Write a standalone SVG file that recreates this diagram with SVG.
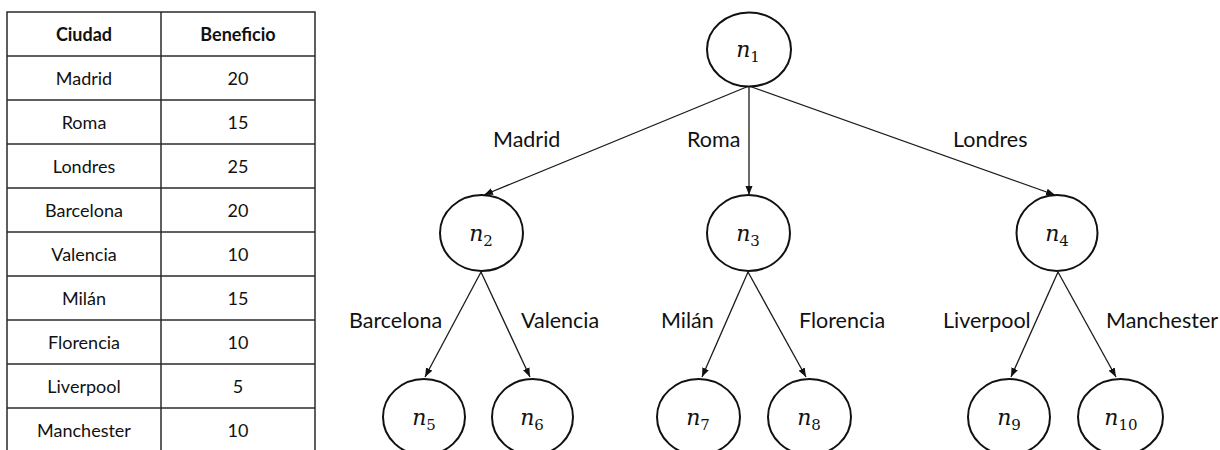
<svg xmlns="http://www.w3.org/2000/svg" width="1220" height="450" viewBox="0 0 1220 450">
  <defs>
    <marker id="arrow" markerUnits="userSpaceOnUse" markerWidth="10" markerHeight="8" refX="9" refY="4" orient="auto">
      <path d="M0,0.5 L9,4 L0,7.5 z" fill="#111"/>
    </marker>
    <style>
      .grid { stroke: #2a2a2a; stroke-width: 1.5; fill: none; }
      .cell { font-family: Lato, "Open Sans", "Liberation Sans", sans-serif; font-size: 18px; fill: #111; text-anchor: middle; }
      .head { font-weight: bold; }
      .node ellipse { fill: #fff; stroke: #111; stroke-width: 2; }
      .node text { font-family: "DejaVu Serif", "Liberation Serif", serif; font-size: 22px; fill: #111; text-anchor: middle; }
      .node .sub { font-style: normal; font-size: 15px; }
      .edge { stroke: #1a1a1a; stroke-width: 1.3; fill: none; marker-end: url(#arrow); }
      .lbl { font-family: Lato, "Open Sans", "Liberation Sans", sans-serif; font-size: 21.5px; fill: #111; }
    </style>
  </defs>

  <rect width="1220" height="450" fill="#fff"/>

  <!-- Table of cities and profits -->
  <g id="table">
    <rect class="grid" x="7" y="12" width="308" height="445"/>
    <line class="grid" x1="161" y1="12" x2="161" y2="457"/>
    <line class="grid" x1="7" y1="56" x2="315" y2="56"/>
    <line class="grid" x1="7" y1="100" x2="315" y2="100"/>
    <line class="grid" x1="7" y1="144" x2="315" y2="144"/>
    <line class="grid" x1="7" y1="188" x2="315" y2="188"/>
    <line class="grid" x1="7" y1="232" x2="315" y2="232"/>
    <line class="grid" x1="7" y1="276" x2="315" y2="276"/>
    <line class="grid" x1="7" y1="320" x2="315" y2="320"/>
    <line class="grid" x1="7" y1="364" x2="315" y2="364"/>
    <line class="grid" x1="7" y1="408" x2="315" y2="408"/>

    <text class="cell head" x="84" y="41">Ciudad</text>
    <text class="cell head" x="238" y="41">Beneficio</text>

    <text class="cell" x="84" y="85">Madrid</text>
    <text class="cell" x="238" y="85">20</text>
    <text class="cell" x="84" y="129">Roma</text>
    <text class="cell" x="238" y="129">15</text>
    <text class="cell" x="84" y="173">Londres</text>
    <text class="cell" x="238" y="173">25</text>
    <text class="cell" x="84" y="217">Barcelona</text>
    <text class="cell" x="238" y="217">20</text>
    <text class="cell" x="84" y="261">Valencia</text>
    <text class="cell" x="238" y="261">10</text>
    <text class="cell" x="84" y="305">Milán</text>
    <text class="cell" x="238" y="305">15</text>
    <text class="cell" x="84" y="349">Florencia</text>
    <text class="cell" x="238" y="349">10</text>
    <text class="cell" x="84" y="393">Liverpool</text>
    <text class="cell" x="238" y="393">5</text>
    <text class="cell" x="84" y="437">Manchester</text>
    <text class="cell" x="238" y="437">10</text>
  </g>

  <!-- Tree connectors -->
  <g id="edges">
    <line class="edge" x1="749" y1="86" x2="484" y2="195"/>
    <line class="edge" x1="749" y1="86" x2="749" y2="195"/>
    <line class="edge" x1="749" y1="86" x2="1055" y2="195"/>
    <line class="edge" x1="481" y1="272" x2="425" y2="377"/>
    <line class="edge" x1="481" y1="272" x2="530" y2="377"/>
    <line class="edge" x1="748" y1="272" x2="702" y2="377"/>
    <line class="edge" x1="748" y1="272" x2="806" y2="377"/>
    <line class="edge" x1="1058" y1="272" x2="1011" y2="377"/>
    <line class="edge" x1="1058" y1="272" x2="1116" y2="377"/>
  </g>

  <!-- Edge labels -->
  <g id="labels">
    <text class="lbl" x="493" y="147">Madrid</text>
    <text class="lbl" x="687" y="147">Roma</text>
    <text class="lbl" x="953" y="147">Londres</text>
    <text class="lbl" x="349" y="328">Barcelona</text>
    <text class="lbl" x="521" y="328">Valencia</text>
    <text class="lbl" x="661" y="328">Milán</text>
    <text class="lbl" x="799" y="328">Florencia</text>
    <text class="lbl" x="943" y="328">Liverpool</text>
    <text class="lbl" x="1106" y="328">Manchester</text>
  </g>

  <!-- Tree nodes -->
  <g id="n1" class="node">
    <ellipse cx="749" cy="49.5" rx="42" ry="37"/>
    <text x="748" y="57"><tspan font-style="italic">n</tspan><tspan class="sub" dy="5">1</tspan></text>
  </g>
  <g id="n2" class="node">
    <ellipse cx="481.5" cy="233" rx="41.5" ry="38"/>
    <text x="481" y="241"><tspan font-style="italic">n</tspan><tspan class="sub" dy="5">2</tspan></text>
  </g>
  <g id="n3" class="node">
    <ellipse cx="748.5" cy="233" rx="41.5" ry="38"/>
    <text x="748" y="241"><tspan font-style="italic">n</tspan><tspan class="sub" dy="5">3</tspan></text>
  </g>
  <g id="n4" class="node">
    <ellipse cx="1057" cy="233" rx="40.5" ry="38"/>
    <text x="1057" y="241"><tspan font-style="italic">n</tspan><tspan class="sub" dy="5">4</tspan></text>
  </g>
  <g id="n5" class="node">
    <ellipse cx="424" cy="417" rx="41" ry="38"/>
    <text x="424" y="425"><tspan font-style="italic">n</tspan><tspan class="sub" dy="5">5</tspan></text>
  </g>
  <g id="n6" class="node">
    <ellipse cx="532.5" cy="417" rx="40.5" ry="38"/>
    <text x="532" y="425"><tspan font-style="italic">n</tspan><tspan class="sub" dy="5">6</tspan></text>
  </g>
  <g id="n7" class="node">
    <ellipse cx="698.5" cy="417" rx="41.5" ry="38"/>
    <text x="698" y="425"><tspan font-style="italic">n</tspan><tspan class="sub" dy="5">7</tspan></text>
  </g>
  <g id="n8" class="node">
    <ellipse cx="809.5" cy="417" rx="41.5" ry="38"/>
    <text x="809" y="425"><tspan font-style="italic">n</tspan><tspan class="sub" dy="5">8</tspan></text>
  </g>
  <g id="n9" class="node">
    <ellipse cx="1009" cy="417" rx="41" ry="38"/>
    <text x="1009" y="425"><tspan font-style="italic">n</tspan><tspan class="sub" dy="5">9</tspan></text>
  </g>
  <g id="n10" class="node">
    <ellipse cx="1120.5" cy="417" rx="42.5" ry="38"/>
    <text x="1121" y="425"><tspan font-style="italic">n</tspan><tspan class="sub" dy="5">10</tspan></text>
  </g>
</svg>
